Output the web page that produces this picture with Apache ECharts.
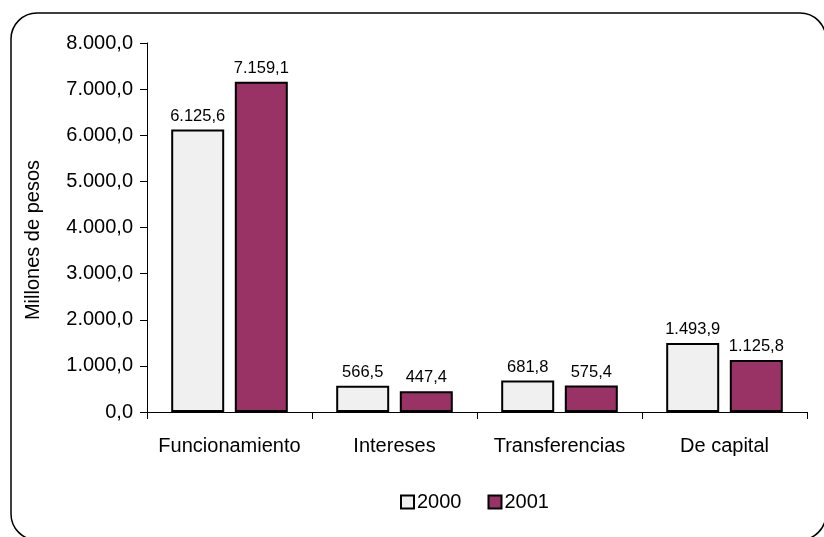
<!DOCTYPE html>
<html>
<head>
<meta charset="utf-8">
<script src="https://cdn.jsdelivr.net/npm/echarts@6/dist/echarts.min.js"></script>
<style>html,body{margin:0;padding:0;background:#fff}#c{width:824px;height:537px}</style>
</head>
<body>
<div id="c"></div>
<script>
const categories = ['Funcionamiento', 'Intereses', 'Transferencias', 'De capital'];
const seriesNames = ['2000', '2001'];
const values2000 = [6125.6, 566.5, 681.8, 1493.9];
const values2001 = [7159.1, 447.4, 575.4, 1125.8];
const yTicks = [0, 1000, 2000, 3000, 4000, 5000, 6000, 7000, 8000];
const yAxisTitle = 'Millones de pesos';

function fmt(v) {
  const parts = v.toFixed(1).split('.');
  const int = parts[0].replace(/\B(?=(\d{3})+(?!\d))/g, '.');
  return int + ',' + parts[1];
}

const FONT = 'Liberation Sans, Arial, sans-serif';
const chart = echarts.init(document.getElementById('c'), null, {renderer: 'canvas'});
const labelCfg = {show: true, position: 'top', distance: 5, color: '#000', fontSize: 16.5, fontFamily: FONT,
  formatter: p => fmt(p.value)};
chart.setOption({
  animation: false,
  backgroundColor: '#fff',
  graphic: [{
    type: 'rect', silent: true, z: -1,
    shape: {x: 11, y: 13, width: 815, height: 527, r: 26},
    style: {fill: 'none', stroke: '#000', lineWidth: 1.5}
  }, {
    type: 'text', silent: true, x: 33, y: 240, rotation: Math.PI / 2,
    style: {text: yAxisTitle, fill: '#000', font: '20px ' + FONT, align: 'center', verticalAlign: 'middle'}
  }],
  grid: {left: 147, right: 17, top: 43, bottom: 125, containLabel: false},
  legend: {
    data: seriesNames, top: 487, left: 395, itemWidth: 13, itemHeight: 13, itemGap: 26,
    textStyle: {fontSize: 20, fontFamily: FONT, color: '#000', padding: [0, 0, 0, -2]},
    icon: 'rect'
  },
  xAxis: {
    type: 'category', data: categories,
    axisLine: {lineStyle: {color: '#000', width: 1}},
    axisTick: {show: true, length: 7, lineStyle: {color: '#000'}},
    axisLabel: {color: '#000', fontSize: 20, fontFamily: FONT, margin: 24, interval: 0}
  },
  yAxis: {
    type: 'value', min: 0, max: 8000, interval: 1000,
    axisLine: {show: true, lineStyle: {color: '#000', width: 1}},
    axisTick: {show: true, length: 7, lineStyle: {color: '#000'}},
    splitLine: {show: false},
    axisLabel: {color: '#000', fontSize: 20, fontFamily: FONT, margin: 14,
      formatter: v => yTicks.includes(v) ? fmt(v) : ''}
  },
  series: [
    {name: seriesNames[0], type: 'bar', data: values2000, barWidth: 53, barGap: '20%',
      itemStyle: {color: '#f0f0f0', borderColor: '#000', borderWidth: 2}, label: labelCfg},
    {name: seriesNames[1], type: 'bar', data: values2001, barWidth: 53,
      itemStyle: {color: '#993366', borderColor: '#000', borderWidth: 2}, label: labelCfg}
  ]
});
</script>
</body>
</html>
